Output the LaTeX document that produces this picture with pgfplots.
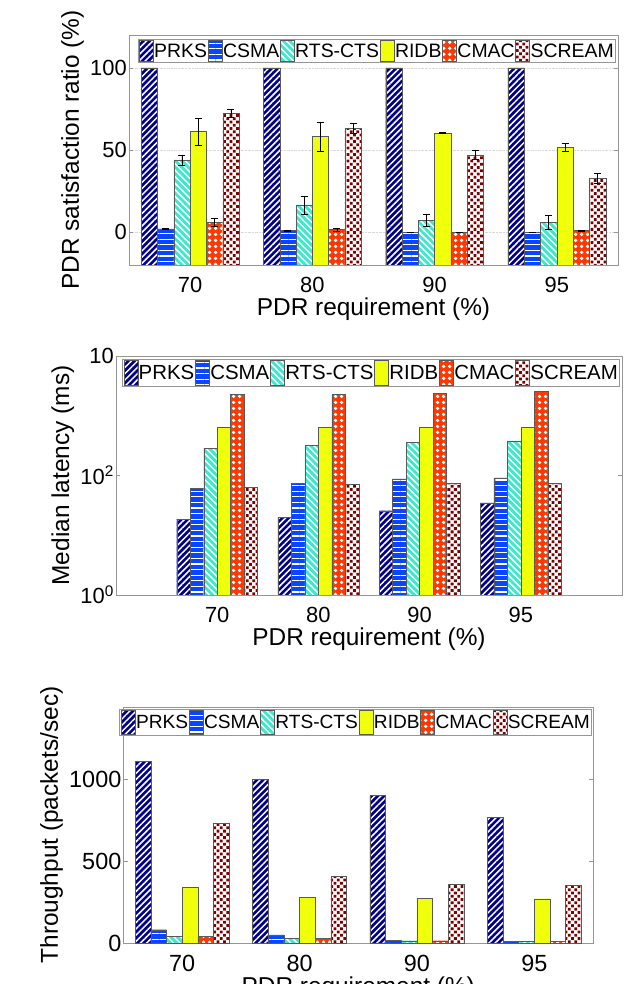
\documentclass[border=0pt]{standalone}
\usepackage{fontspec}
\setmainfont{Liberation Sans}
\usepackage{pgfplots}
\pgfplotsset{compat=1.18}
\usepackage{pgfplotstable}
\usetikzlibrary{patterns.meta}

\definecolor{cPRKS}{RGB}{0,0,140}
\definecolor{cCSMA}{RGB}{10,70,255}
\definecolor{cRTS}{RGB}{60,232,205}
\definecolor{cRIDB}{RGB}{240,255,10}
\definecolor{cCMAC}{RGB}{255,55,0}
\definecolor{cSCREAM}{RGB}{125,0,0}
\definecolor{axgray}{RGB}{150,150,150}

\tikzset{
 barline/.style={draw=black!65, line width=0.4bp},
 sPRKS/.style={barline, fill=cPRKS, postaction={pattern={Lines[angle=45,distance=4.4bp,line width=1.5bp]}, pattern color=white}},
 sCSMA/.style={barline, fill=cCSMA, postaction={pattern={Lines[angle=0,distance=5.6bp,line width=1.3bp]}, pattern color=white}},
 sRTS/.style={barline, fill=cRTS, postaction={pattern={Lines[angle=-45,distance=4.6bp,line width=1.5bp]}, pattern color=white}},
 sRIDB/.style={barline, fill=cRIDB},
 sCMAC/.style={barline, fill=cCMAC, postaction={pattern={Dots[distance=6bp,radius=2.1bp]}, pattern color=white}},
 sSCREAM/.style={barline, fill=white, postaction={pattern={Dots[distance=4.6bp,radius=1.95bp,angle=45]}, pattern color=cSCREAM}},
}

% PDR satisfaction ratio (%), with error
\pgfplotstableread{
x prks prkse csma csmae rts rtse ridb ridbe cmac cmace scream screame
1 100 0 2.0 0.5 44.0 3.0 61.2 8.2 6.0 2.5 72.3 2.5
2 100 0 1.0 0.3 16.6 5.5 58.2 8.9 1.6 1.0 63.2 2.9
3 100 0 0.0 0.0  7.1 3.5 60.4 0.3 0.0 0.0 46.9 2.7
4 100 0 0.0 0.0  6.1 4.2 51.5 2.4 1.0 0.3 32.7 3.0
}\pdrtab

% Median latency (ms)
\pgfplotstableread{
x prks csma rts ridb cmac scream
1 18.6 61.0 286 634 2258 64.0
2 19.9 74.5 317 643 2258 71.6
3 25.7 88.0 356 643 2376 74.5
4 34.9 91.4 380 643 2535 74.5
}\lattab

% Throughput (packets/sec)
\pgfplotstableread{
x prks csma rts ridb cmac scream
1 1108 81 41 339 41 730
2  998 49 30 280 30 406
3  900 18 14 272 14 356
4  768 10  8 270  8 350
}\thrtab

\pgfplotsset{
 common/.style={
  scale only axis,
  anchor=south west,
  ybar,
  bar width=0.1333,
  axis line style={axgray, line width=0.8bp},
  tick style={axgray, line width=0.6bp},
  tick align=inside,
  major tick length=4bp,
  xtick={1,2,3,4},
  xticklabels={70,80,90,95},
  xtick style={draw=none},
  xlabel={PDR requirement (\%)},
  ticklabel style={font=\fontsize{22}{24}\selectfont},
  label style={font=\fontsize{24.5}{27}\selectfont},
  xticklabel style={inner sep=1bp, yshift=-11bp},
  yticklabel style={inner sep=2bp},
  xlabel style={inner sep=0bp, yshift=-4bp},
  ylabel style={inner sep=0bp, yshift=4bp},
  legend columns=6,
  legend style={draw=axgray, line width=0.8bp, fill=white, inner sep=1bp,
    at={(1,1)}, anchor=north east,
    nodes={inner sep=0.8bp},
    /tikz/every even column/.append style={column sep=0bp}},
  legend cell align=left,
 },
 legimg/.style={legend image code/.code={\path[##1] (0bp,-#1) rectangle (14bp,#1);}},
}

\begin{document}
\begin{tikzpicture}[x=1bp,y=1bp]
% ---------- top ----------
\begin{axis}[common,
  at={(129bp,719bp)}, width=489bp, height=230bp,
  xmin=0.5, xmax=4.5, ymin=0, ymax=140,
  ytick={20,70,120}, yticklabels={0,50,100},
  ymajorgrids, grid style={densely dotted, black!15, line width=0.4bp},
  ylabel={PDR satisfaction ratio (\%)},
  legimg=10.5bp,
  legend style={xshift=-2bp, yshift=-4bp, font=\fontsize{19.5}{21}\selectfont},
  error bars/error bar style={black, line width=0.5bp},
  error bars/error mark options={black, line width=0.5bp, mark size=3.5bp, rotate=90},
]
\addplot[sPRKS, bar shift=-0.3333] table[x=x, y expr=\thisrow{prks}+20] {\pdrtab};
\addplot[sCSMA, bar shift=-0.2, error bars/.cd, y dir=both, y explicit] table[x=x, y expr=\thisrow{csma}+20, y error=csmae] {\pdrtab};
\addplot[sRTS, bar shift=-0.0667, error bars/.cd, y dir=both, y explicit] table[x=x, y expr=\thisrow{rts}+20, y error=rtse] {\pdrtab};
\addplot[sRIDB, bar shift=0.0667, error bars/.cd, y dir=both, y explicit] table[x=x, y expr=\thisrow{ridb}+20, y error=ridbe] {\pdrtab};
\addplot[sCMAC, bar shift=0.2, error bars/.cd, y dir=both, y explicit] table[x=x, y expr=\thisrow{cmac}+20, y error=cmace] {\pdrtab};
\addplot[sSCREAM, bar shift=0.3333, error bars/.cd, y dir=both, y explicit] table[x=x, y expr=\thisrow{scream}+20, y error=screame] {\pdrtab};
\legend{PRKS,CSMA,RTS-CTS,RIDB,CMAC,SCREAM}
\end{axis}
% ---------- middle ----------
\begin{axis}[common,
  at={(116bp,389bp)}, width=506bp, height=239bp,
  ymode=log, log origin=infty,
  xmin=0, xmax=5, ymin=1, ymax=10000,
  ytick={1,100,10000}, yticklabels={10\textsuperscript{0},10\textsuperscript{2},10},
  yminorticks=false,
  ylabel={Median latency (ms)},
  legimg=12.5bp,
  legend style={xshift=-2bp, yshift=-3bp, font=\fontsize{20.5}{22}\selectfont},
]
\addplot[sPRKS, bar shift=-0.3333] table[x=x, y=prks] {\lattab};
\addplot[sCSMA, bar shift=-0.2] table[x=x, y=csma] {\lattab};
\addplot[sRTS, bar shift=-0.0667] table[x=x, y=rts] {\lattab};
\addplot[sRIDB, bar shift=0.0667] table[x=x, y=ridb] {\lattab};
\addplot[sCMAC, bar shift=0.2] table[x=x, y=cmac] {\lattab};
\addplot[sSCREAM, bar shift=0.3333] table[x=x, y=scream] {\lattab};
\legend{PRKS,CSMA,RTS-CTS,RIDB,CMAC,SCREAM}
\end{axis}
% ---------- bottom ----------
\begin{axis}[common,
  at={(123.5bp,41bp)}, width=469.5bp, height=236bp,
  xmin=0.5, xmax=4.5, ymin=0, ymax=1440,
  ytick={0,500,1000}, yticklabels={0,500,1000},
  ticklabel style={font=\fontsize{23.5}{25}\selectfont},
  ylabel={Throughput (packets/sec)},
  legimg=12bp,
  legend style={xshift=-1bp, yshift=-2bp, font=\fontsize{19.2}{21}\selectfont},
]
\addplot[sPRKS, bar shift=-0.3333] table[x=x, y=prks] {\thrtab};
\addplot[sCSMA, bar shift=-0.2] table[x=x, y=csma] {\thrtab};
\addplot[sRTS, bar shift=-0.0667] table[x=x, y=rts] {\thrtab};
\addplot[sRIDB, bar shift=0.0667] table[x=x, y=ridb] {\thrtab};
\addplot[sCMAC, bar shift=0.2] table[x=x, y=cmac] {\thrtab};
\addplot[sSCREAM, bar shift=0.3333] table[x=x, y=scream] {\thrtab};
\legend{PRKS,CSMA,RTS-CTS,RIDB,CMAC,SCREAM}
\end{axis}
\pgfresetboundingbox
\useasboundingbox (0bp,0bp) rectangle (635bp,984bp);
\end{tikzpicture}
\end{document}
